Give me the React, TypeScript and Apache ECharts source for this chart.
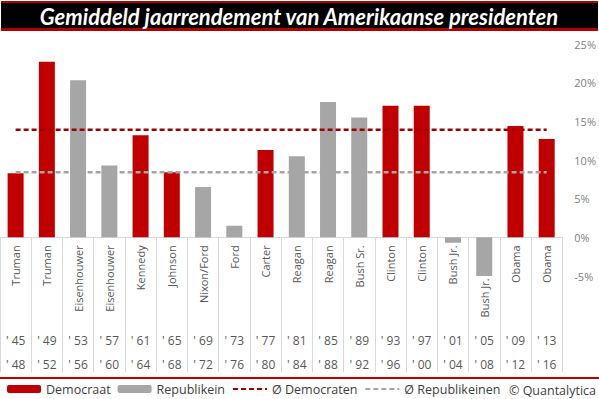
import React, { useEffect, useRef } from "react";
import * as echarts from "echarts";

const presidents = [
  "Truman", "Truman", "Eisenhouwer", "Eisenhouwer", "Kennedy", "Johnson",
  "Nixon/Ford", "Ford", "Carter", "Reagan", "Reagan", "Bush Sr.",
  "Clinton", "Clinton", "Bush Jr.", "Bush Jr.", "Obama", "Obama",
];
const startYears = ["45", "49", "53", "57", "61", "65", "69", "73", "77", "81", "85", "89", "93", "97", "01", "05", "09", "13"];
const endYears = ["48", "52", "56", "60", "64", "68", "72", "76", "80", "84", "88", "92", "96", "00", "04", "08", "12", "16"];
const democratValues: (number | null)[] = [8.3, 22.7, null, null, 13.2, 8.4, null, null, 11.3, null, null, null, 17.0, 17.0, null, null, 14.4, 12.7];
const republicanValues: (number | null)[] = [null, null, 20.3, 9.3, null, null, 6.5, 1.5, null, 10.5, 17.5, 15.5, null, null, -0.7, -5.1, null, null];
const democratAverage = 13.9;
const republicanAverage = 8.4;
const yTicks = { min: -5, max: 25, interval: 5 };

const FONT = "'Open Sans', sans-serif";
const GRID_TOP = 44;
const GRID_BOTTOM = 123;
const CHART_H = 399;

export default function App() {
  const ref = useRef<HTMLDivElement>(null);
  useEffect(() => {
    if (!ref.current) return;
    const chart = echarts.init(ref.current, undefined, { renderer: "svg" });
    const nameData = presidents.map((p, i) => {
      const neg = (republicanValues[i] ?? 0) < -2;
      return neg ? { value: p, textStyle: { padding: [0, 33, 0, 0] } } : p;
    });
    const yearData = startYears.map((s, i) => `' ${s}\n' ${endYears[i]}`);
    // shift the name axis from the grid's bottom edge up to the value 0
    const gridH = CHART_H - GRID_TOP - GRID_BOTTOM;
    const zeroFromBottom = (gridH * (0 - yTicks.min)) / (yTicks.max - yTicks.min);
    chart.setOption({
      animation: false,
      textStyle: { fontFamily: FONT },
      grid: { left: 0, right: 35, top: GRID_TOP, bottom: GRID_BOTTOM, containLabel: false },
      xAxis: [
        {
          type: "category",
          data: nameData,
          position: "bottom",
          offset: -zeroFromBottom,
          axisLine: { onZero: false, lineStyle: { color: "#d9d9d9", width: 1 } },
          axisTick: { show: true, alignWithLabel: false, interval: 0, length: 135, lineStyle: { color: "#d9d9d9" } },
          axisLabel: { rotate: 90, interval: 0, margin: 8, fontSize: 11, color: "#595959", fontFamily: FONT },
          splitLine: { show: false },
        },
        {
          type: "category",
          data: yearData,
          position: "bottom",
          axisLine: { show: false, onZero: false },
          axisTick: { show: false },
          axisLabel: { interval: 0, margin: 52, fontSize: 12, lineHeight: 24, color: "#595959", fontFamily: FONT },
        },
      ],
      yAxis: {
        type: "value",
        position: "right",
        min: yTicks.min,
        max: yTicks.max,
        interval: yTicks.interval,
        axisLine: { show: false },
        axisTick: { show: false },
        splitLine: { show: false },
        axisLabel: { formatter: "{value}%", margin: 12, fontSize: 11, color: "#7f7f7f", align: "left", fontFamily: FONT },
      },
      legend: {
        left: 2,
        top: 380,
        padding: [2, 5, 2, 5],
        itemWidth: 34,
        itemHeight: 8,
        itemGap: 7,
        textStyle: { fontSize: 12.5, lineHeight: 14, color: "#404040", fontFamily: FONT },
        data: [
          { name: "Democraat" },
          { name: "Republikein" },
          { name: "Ø Democraten", itemStyle: { opacity: 0 } },
          { name: "Ø Republikeinen", itemStyle: { opacity: 0 } },
        ],
      },
      series: [
        {
          name: "Democraat",
          type: "bar",
          stack: "p",
          barWidth: 16,
          data: democratValues,
          itemStyle: { color: "#C00000" },
          z: 2,
        },
        {
          name: "Republikein",
          type: "bar",
          stack: "p",
          barWidth: 16,
          data: republicanValues,
          itemStyle: { color: "#A6A6A6" },
          z: 2,
        },
        {
          name: "Ø Democraten",
          type: "line",
          data: presidents.map(() => democratAverage),
          symbol: "none",
          lineStyle: { color: "#A00000", width: 2.5, type: [5, 3] },
          itemStyle: { color: "#A00000" },
          z: 5,
        },
        {
          name: "Ø Republikeinen",
          type: "line",
          data: presidents.map(() => republicanAverage),
          symbol: "none",
          lineStyle: { color: "#A6A6A6", width: 2.5, type: [5, 3] },
          itemStyle: { color: "#A6A6A6" },
          z: 5,
        },
      ],
      graphic: [
        { type: "rect", shape: { x: 1, y: 1, width: 597, height: 30 }, style: { fill: "#B00000" } },
        { type: "rect", shape: { x: 1, y: 3, width: 597, height: 25 }, style: { fill: "#000000" } },
        {
          type: "text",
          x: 299,
          y: 16,
          style: {
            text: "Gemiddeld jaarrendement van Amerikaanse presidenten",
            fill: "#ffffff",
            font: "italic bold 22px Lato, sans-serif",
            textAlign: "center",
            textVerticalAlign: "middle",
          },
        },
        { type: "rect", shape: { x: 0, y: 377, width: 599, height: 2 }, style: { fill: "#C00000" } },
        {
          type: "text",
          x: 596,
          y: 390,
          style: {
            text: "© Quantalytica",
            fill: "#404040",
            font: `12.5px ${FONT}`,
            textAlign: "right",
            textVerticalAlign: "middle",
          },
        },
      ],
    });
    return () => chart.dispose();
  }, []);
  return (
    <div
      ref={ref}
      style={{ position: "fixed", left: 0, top: 0, width: 599, height: 399, background: "#fff" }}
    />
  );
}
